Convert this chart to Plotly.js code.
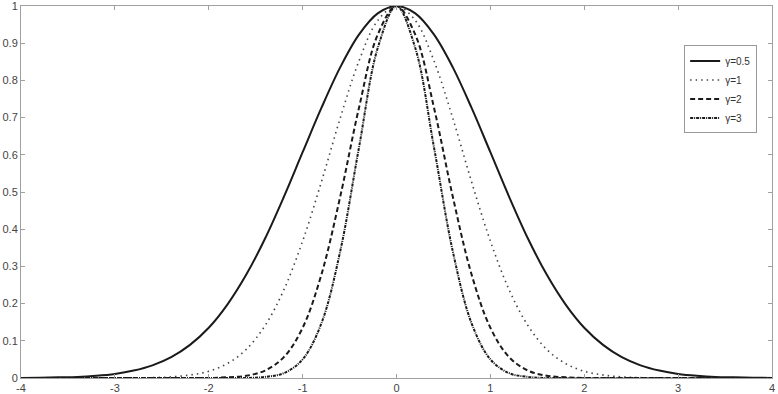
<!DOCTYPE html>
<html>
<head>
<meta charset="utf-8">
<script src="https://cdn.plot.ly/plotly-3.0.1.min.js"></script>
<style>html,body{margin:0;padding:0;background:#fff;}#chart{width:778px;height:394px;}</style>
</head>
<body>
<div id="chart"></div>
<script>
// x positions (read at 0.2 steps)
var xValues = [-4,-3.8,-3.6,-3.4,-3.2,-3,-2.8,-2.6,-2.4,-2.2,-2,-1.8,-1.6,-1.4,-1.2,-1,-0.8,-0.6,-0.4,-0.2,0,
               0.2,0.4,0.6,0.8,1,1.2,1.4,1.6,1.8,2,2.2,2.4,2.6,2.8,3,3.2,3.4,3.6,3.8,4];
var seriesNames = ["γ=0.5", "γ=1", "γ=2", "γ=3"];
var gamma05 = [0,0.001,0.002,0.003,0.006,0.011,0.020,0.034,0.056,0.089,0.135,0.198,0.278,0.375,0.487,0.607,0.726,0.835,0.923,0.980,1,
               0.980,0.923,0.835,0.726,0.607,0.487,0.375,0.278,0.198,0.135,0.089,0.056,0.034,0.020,0.011,0.006,0.003,0.002,0.001,0];
var gamma1 = [0,0,0,0,0,0,0,0.001,0.003,0.008,0.018,0.039,0.077,0.141,0.237,0.368,0.527,0.698,0.852,0.961,1,
              0.961,0.852,0.698,0.527,0.368,0.237,0.141,0.077,0.039,0.018,0.008,0.003,0.001,0,0,0,0,0,0,0];
var gamma2 = [0,0,0,0,0,0,0,0,0,0,0,0.002,0.006,0.020,0.056,0.135,0.278,0.487,0.726,0.923,1,
              0.923,0.726,0.487,0.278,0.135,0.056,0.020,0.006,0.002,0,0,0,0,0,0,0,0,0,0,0];
var gamma3 = [0,0,0,0,0,0,0,0,0,0,0,0,0,0.003,0.013,0.050,0.147,0.340,0.619,0.887,1,
              0.887,0.619,0.340,0.147,0.050,0.013,0.003,0,0,0,0,0,0,0,0,0,0,0,0,0];
var xTicks = [-4,-3,-2,-1,0,1,2,3,4];
var yTicks = [0,0.1,0.2,0.3,0.4,0.5,0.6,0.7,0.8,0.9,1];

var allY = [gamma05, gamma1, gamma2, gamma3];
var styles = [
  {color:'#1a1a1a', width:2, dash:'solid'},
  {color:'#444444', width:1.6, dash:'1.5px,4px'},
  {color:'#1a1a1a', width:2, dash:'5px,3px'},
  {color:'#1a1a1a', width:2, dash:'3px,1px,1px,1px'}
];
var traces = allY.map(function(y, i){
  return {x:xValues, y:y, type:'scatter', mode:'lines', name:seriesNames[i],
          line:{color:styles[i].color, width:styles[i].width, dash:styles[i].dash, shape:'spline', smoothing:1}};
});

var axisCommon = {
  showgrid:false, zeroline:false, showline:true, mirror:'ticks',
  linecolor:'#a0a0a0', linewidth:1, ticks:'inside', ticklen:4, tickcolor:'#a0a0a0',
  ticklabeloverflow:'allow',
  tickfont:{family:'Liberation Sans, Arial, sans-serif', size:11, color:'#444'}
};
var layout = {
  width:778, height:394,
  margin:{l:21, r:6, t:6, b:16},
  paper_bgcolor:'#fff', plot_bgcolor:'#fff',
  showlegend:true,
  legend:{x:0.883, y:0.894, xanchor:'left', yanchor:'top', bgcolor:'#fff',
          bordercolor:'#999', borderwidth:1, itemwidth:30, tracegroupgap:0,
          font:{family:'Liberation Sans, Arial, sans-serif', size:10, color:'#333'}},
  xaxis:Object.assign({range:[-4,4], tickvals:xTicks, ticktext:xTicks.map(String), ticklabelstandoff:0}, axisCommon),
  yaxis:Object.assign({range:[0,1], tickvals:yTicks, ticktext:yTicks.map(String)}, axisCommon)
};
Plotly.newPlot('chart', traces, layout, {displayModeBar:false, staticPlot:true});
</script>
</body>
</html>
